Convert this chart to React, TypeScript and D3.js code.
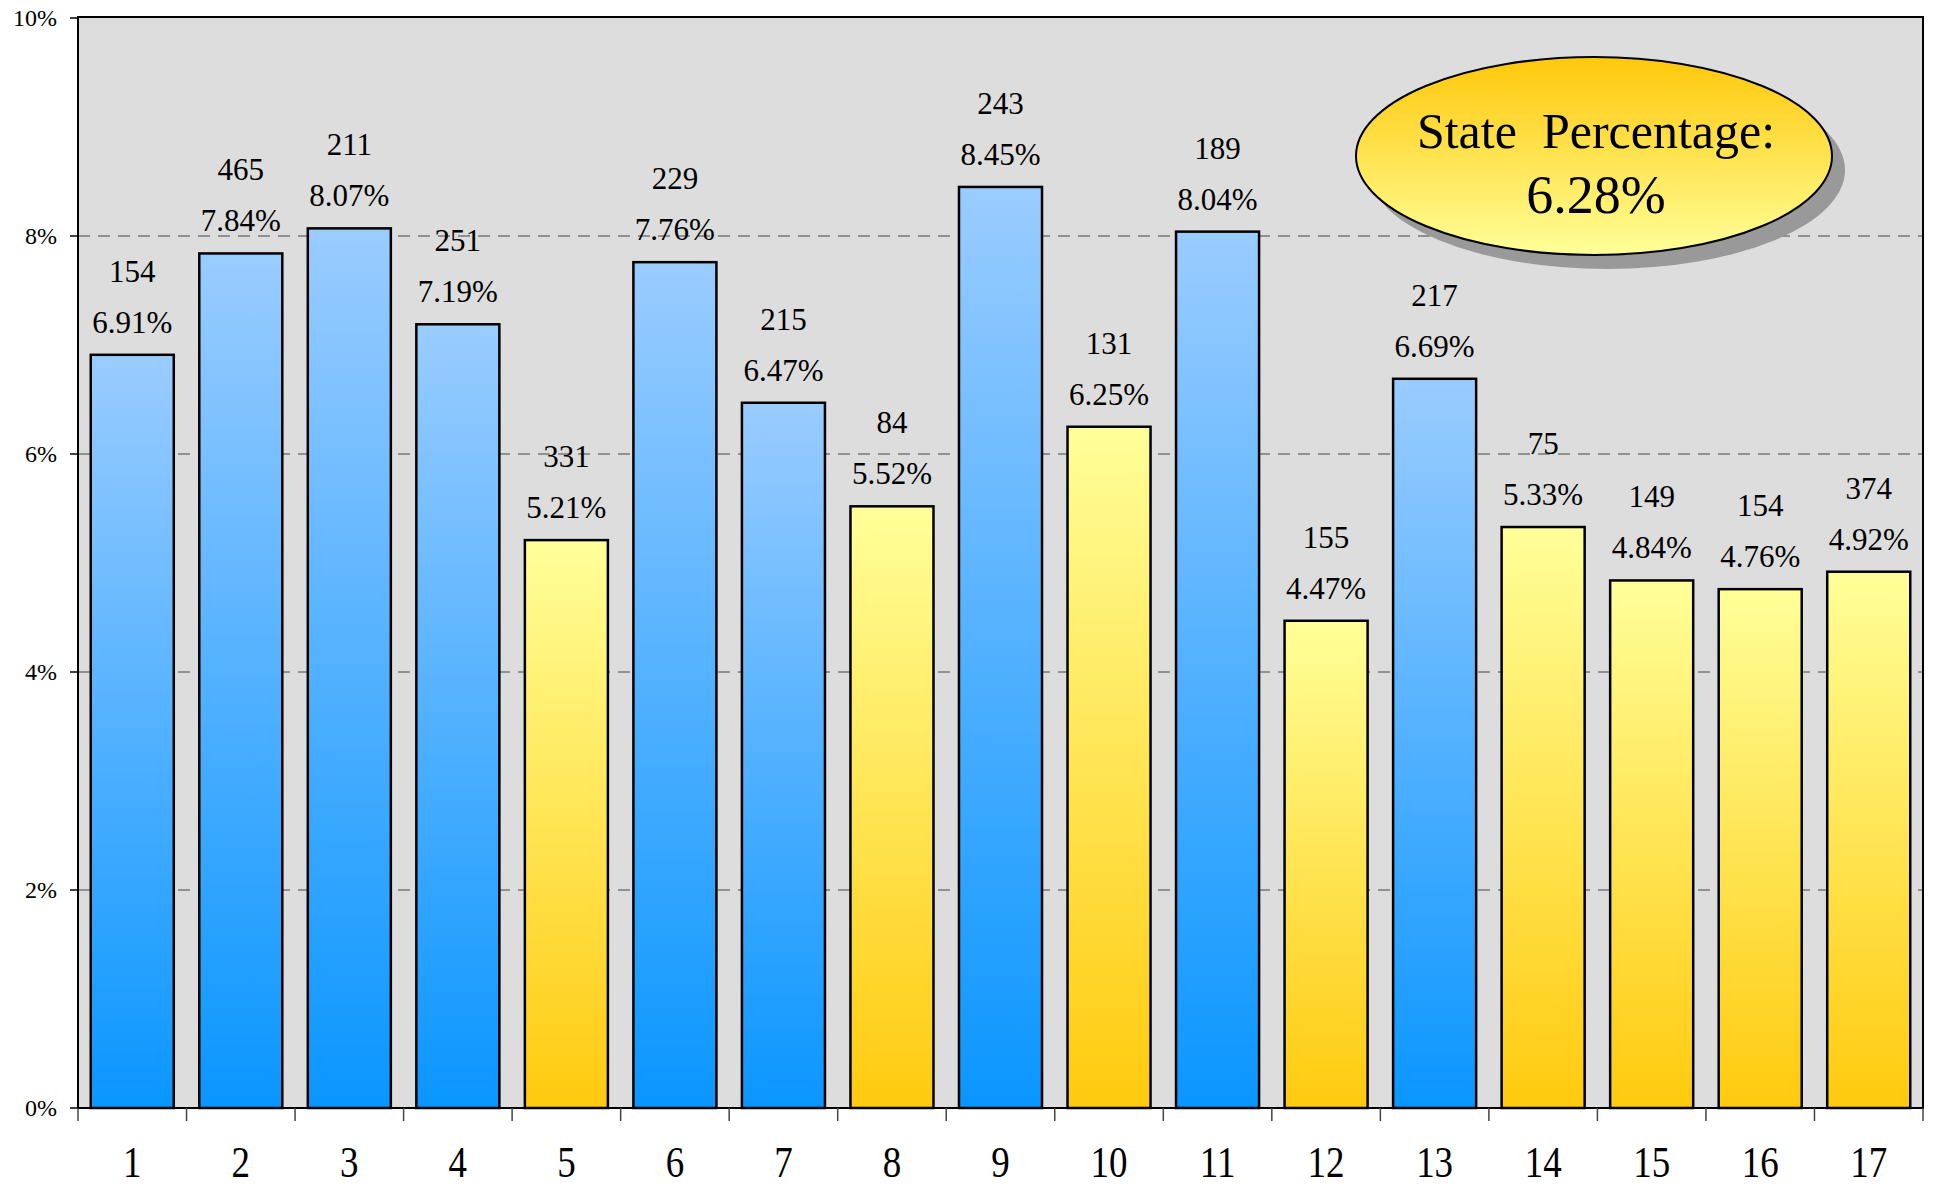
import React from "react";
import * as d3 from "d3";

const categories = ["1","2","3","4","5","6","7","8","9","10","11","12","13","14","15","16","17"];
const percentages = [6.91, 7.84, 8.07, 7.19, 5.21, 7.76, 6.47, 5.52, 8.45, 6.25, 8.04, 4.47, 6.69, 5.33, 4.84, 4.76, 4.92];
const counts = [154, 465, 211, 251, 331, 229, 215, 84, 243, 131, 189, 155, 217, 75, 149, 154, 374];
const yTicks = [0, 2, 4, 6, 8, 10];
const statePercentage = 6.28;

const W = 1934;
const H = 1186;
const left = 78;
const right = 1923;
const top = 17;
const bottom = 1108;
const FONT = "Liberation Serif, Times New Roman, serif";

export default function App() {
  const x = d3
    .scaleBand<string>()
    .domain(categories)
    .range([left, right])
    .paddingInner(0.235)
    .paddingOuter(0.1175);
  const y = d3.scaleLinear().domain([0, 10]).range([bottom, 18]);
  const step = x.step();
  const boundaries = d3.range(categories.length + 1).map((i) => left + i * step);

  const ecx = 1594, ecy = 156, erx = 238, ery = 99;
  const tf = { fontFamily: FONT };

  return (
    <div style={{ position: "absolute", left: 0, top: 0, width: W, height: H, background: "#fff" }}>
      <svg width={W} height={H} style={{ display: "block", fontFamily: FONT }}>
        <defs>
          <linearGradient id="blueGrad" x1="0" y1="0" x2="0" y2="1">
            <stop offset="0%" stopColor="#9ACCFF" />
            <stop offset="100%" stopColor="#0A96FF" />
          </linearGradient>
          <linearGradient id="yellowGrad" x1="0" y1="0" x2="0" y2="1">
            <stop offset="0%" stopColor="#FFFF99" />
            <stop offset="100%" stopColor="#FFCA0E" />
          </linearGradient>
          <linearGradient id="ellGrad" x1="0" y1="0" x2="0" y2="1">
            <stop offset="0%" stopColor="#FFC80A" />
            <stop offset="100%" stopColor="#FFFF99" />
          </linearGradient>
        </defs>

        {/* plot background */}
        <rect x={left} y={top} width={right - left} height={bottom - top} fill="#DDDDDD" />

        {/* gridlines */}
        {yTicks.filter((t) => t > 0 && t < 10).map((t) => (
          <line key={"g" + t} x1={left} x2={right} y1={y(t)} y2={y(t)} stroke="#444" strokeWidth={1} strokeDasharray="12 8" />
        ))}

        {/* bars */}
        {categories.map((c, i) => {
          const v = percentages[i];
          const bx = x(c)!;
          const by = y(v);
          return (
            <rect
              key={"b" + c}
              x={bx}
              y={by}
              width={x.bandwidth()}
              height={bottom - by}
              fill={v > statePercentage ? "url(#blueGrad)" : "url(#yellowGrad)"}
              stroke="#000"
              strokeWidth={2.5}
            />
          );
        })}

        {/* bar labels */}
        {categories.map((c, i) => {
          const v = percentages[i];
          const cx = x(c)! + x.bandwidth() / 2;
          const by = y(v);
          return (
            <g key={"l" + c}>
              <text x={cx} y={by - 73} fontSize={31} textAnchor="middle" fill="#000" style={tf}>{counts[i]}</text>
              <text x={cx} y={by - 22} fontSize={31} textAnchor="middle" fill="#000" style={tf}>{v.toFixed(2) + "%"}</text>
            </g>
          );
        })}

        {/* plot border */}
        <rect x={left} y={top} width={right - left} height={bottom - top} fill="none" stroke="#000" strokeWidth={2} />

        {/* y axis ticks and labels */}
        {yTicks.map((t) => (
          <g key={"y" + t}>
            <line x1={70} x2={left} y1={y(t)} y2={y(t)} stroke="#000" strokeWidth={1.5} />
            <text x={57} y={y(t) + 8} fontSize={24} textAnchor="end" fill="#000" style={tf}>{t + "%"}</text>
          </g>
        ))}

        {/* x axis ticks */}
        {boundaries.map((bx, i) => (
          <line key={"xt" + i} x1={bx} x2={bx} y1={bottom} y2={bottom + 13} stroke="#444" strokeWidth={1.5} />
        ))}

        {/* x labels */}
        {categories.map((c) => {
          const cx = x(c)! + x.bandwidth() / 2;
          return (
            <text
              key={"xl" + c}
              transform={`translate(${cx},1177) scale(1,1.18)`}
              fontSize={37}
              textAnchor="middle"
              fill="#000"
              style={tf}
            >
              {c}
            </text>
          );
        })}

        {/* state percentage ellipse */}
        <ellipse cx={ecx + 13} cy={ecy + 14} rx={erx} ry={ery} fill="#999" />
        <ellipse cx={ecx} cy={ecy} rx={erx} ry={ery} fill="url(#ellGrad)" stroke="#000" strokeWidth={2} />
        <text x={1596} y={148} fontSize={50} textAnchor="middle" fill="#000" style={{ ...tf, whiteSpace: "pre" }}>
          {"State  Percentage:"}
        </text>
        <text x={1596} y={213} fontSize={54} textAnchor="middle" fill="#000" style={tf}>
          {statePercentage.toFixed(2) + "%"}
        </text>
      </svg>
    </div>
  );
}
